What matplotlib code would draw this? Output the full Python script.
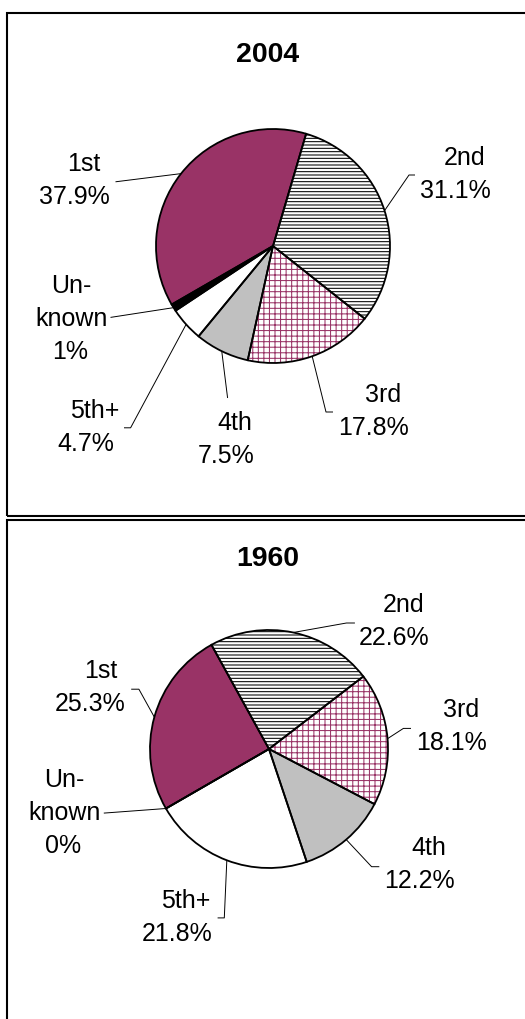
import matplotlib
matplotlib.use('Agg')
import matplotlib.pyplot as plt
from matplotlib.patches import Rectangle
import numpy as np

# canvas size in pixels (1 data unit = 1 px, y measured from top)
W, H = 525, 1019

# --- data ---
categories = ['1st', '2nd', '3rd', '4th', '5th+', 'Unknown']
label_names = ['1st', '2nd', '3rd', '4th', '5th+', 'Un-\nknown']
share_2004 = [37.9, 31.1, 17.8, 7.5, 4.7, 1.0]
share_1960 = [25.3, 22.6, 18.1, 12.2, 21.8, 0.0]

# --- styles ---
face_colors = ['#993366', 'white', 'white', '#C0C0C0', 'white', 'black']
hatches = [None, '-----', '+++', None, None, None]
hatch_colors = ['#993366', 'black', '#993366', '#C0C0C0', 'white', 'black']

plt.rcParams['font.family'] = ['Liberation Sans', 'DejaVu Sans']
plt.rcParams['hatch.linewidth'] = 0.75

# label layout: (value x, value baseline, name x) in pixels
# leaders: elbow / end points after the arc anchor
panels = [
    dict(title='2004', values=share_2004, center=(273, 246), radius=117,
         title_pos=(268, 61.7), frame=(13, 516),
         labels=[(74, 204.2, 84), (455, 198.2, 465), (373, 435.2, 383),
                 (226, 462.7, 235), (86, 451.3, 94.7), (70, 358.9, 71.5)],
         leaders=[[(115.5, 181.8)], [(409, 175), (415, 175)],
                  [(326, 412), (333, 412)], [(227.6, 398)],
                  [(130.6, 427.8), (124, 427.8)], [(110.5, 317.4)]]),
    dict(title='1960', values=share_1960, center=(269, 749), radius=119,
         title_pos=(268, 566.4), frame=(520, H + 20),
         labels=[(90.4, 711, 100.4), (394.4, 645, 403.4), (451.3, 750.2, 461.3),
                 (419.5, 888.4, 428.5), (176.8, 941.3, 185.8), (63, 852.6, 64.5)],
         leaders=[[(138.9, 689.2), (131.2, 689.2)], [(346.5, 623), (354.9, 623)],
                  [(403.4, 728.4), (411, 728.4)], [(371.6, 866.7), (379.3, 866.7)],
                  [(224.3, 917.9), (217.6, 917.9)], [(103.8, 813.1)]]),
]

LINE_STEP = 33

fig = plt.figure(figsize=(W / 100, H / 100), dpi=100)
ax = fig.add_axes([0, 0, 1, 1])

for p in panels:
    cx, cy = p['center']
    r = p['radius']
    c = (cx, H - cy)

    # fills + hatches (hatch colour follows edge colour, so no edge here)
    wedges, _ = ax.pie(p['values'], colors=face_colors, hatch=hatches,
                       startangle=-150, counterclock=False, center=c, radius=r,
                       frame=True, wedgeprops=dict(linewidth=0))
    for w, hc in zip(wedges, hatch_colors):
        w.set_edgecolor(hc)
    # black outlines on top
    ax.pie(p['values'], startangle=-150, counterclock=False, center=c, radius=r,
           frame=True, wedgeprops=dict(fill=False, edgecolor='black', linewidth=1.3))

    for i, w in enumerate(wedges):
        mid = np.radians((w.theta1 + w.theta2) / 2)
        xs = [c[0] + r * np.cos(mid)] + [x for x, y in p['leaders'][i]]
        ys = [c[1] + r * np.sin(mid)] + [H - y for x, y in p['leaders'][i]]
        ax.plot(xs, ys, color='black', lw=0.7, solid_capstyle='butt')

        vx, vy, nx = p['labels'][i]
        ax.text(vx, H - vy, f"{p['values'][i]:g}%", ha='center', va='baseline',
                fontsize=18, color='black')
        name_lines = label_names[i].split('\n')
        for k, line in enumerate(reversed(name_lines)):
            ax.text(nx, H - (vy - LINE_STEP * (k + 1)), line, ha='center',
                    va='baseline', fontsize=18, color='black')

    tx, ty = p['title_pos']
    ax.text(tx, H - ty, p['title'], ha='center', va='baseline', fontsize=20.5,
            fontweight='bold', color='black')

    top, bottom = p['frame']
    ax.add_patch(Rectangle((7, H - bottom), 560, bottom - top, fill=False,
                           edgecolor='black', linewidth=1.5))

ax.set_xlim(0, W)
ax.set_ylim(0, H)
ax.set_aspect('auto')
ax.axis('off')

fig.savefig('out.png', dpi=100)
